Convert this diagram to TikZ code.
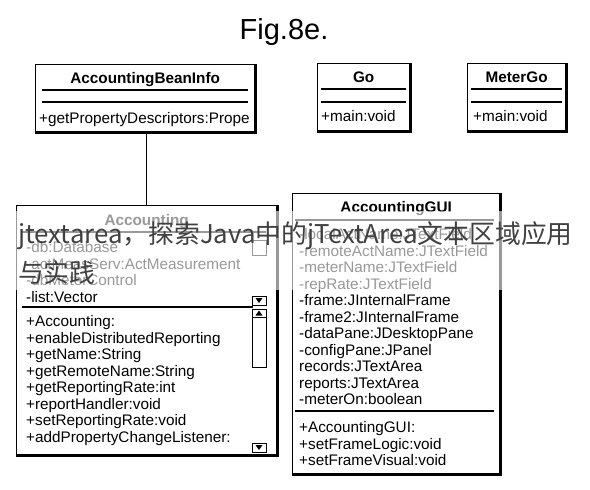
\documentclass[tikz,border=0pt]{standalone}
\usepackage{fontspec}
\setmainfont{Liberation Sans}
\newfontfamily\cjkfont{Noto Sans CJK SC}
\usetikzlibrary{positioning,calc}
\tikzset{
  umlbox/.style={draw,line width=1.3pt,inner sep=0pt,anchor=north west},
  umlname/.style={font=\fontsize{15.3}{16.5}\selectfont\bfseries,inner sep=0pt,anchor=base},
  umlitems/.style={font=\fontsize{15.3}{16.5}\selectfont,align=left,inner sep=0pt,anchor=north west},
  sepline/.style={line width=1.1pt},
  shadowedge/.style={line width=2.4pt},
  scrollpart/.style={draw,line width=0.9pt},
}

\begin{document}
\begin{tikzpicture}[x=1pt,y=-1pt]
\useasboundingbox (0,0) rectangle (590,490);
\node[font=\fontsize{29}{30}\selectfont,anchor=base,inner sep=0pt] (figtitle) at (284,39) {Fig.8e.};

% top row
\node[umlbox,minimum width=219pt,minimum height=67pt] (beaninfo) at (35,64) {};
\node[umlname] (beaninfoname) at ($(beaninfo.north)+(0,19.5)$) {AccountingBeanInfo};
\draw[sepline] ($(beaninfo.north west)+(7,26)$) -- ($(beaninfo.north east)+(-7,26)$);
\draw[sepline] ($(beaninfo.north west)+(7,38)$) -- ($(beaninfo.north east)+(-7,38)$);
\node[umlitems] (beaninfoops) at ($(beaninfo.north west)+(4,48)$) {+getPropertyDescriptors:Prope};

\node[umlbox,minimum width=92pt,minimum height=67pt] (go) at (317,63) {};
\node[umlname] (goname) at ($(go.north)+(0,19.5)$) {Go};
\draw[sepline] ($(go.north west)+(4,26)$) -- ($(go.north east)+(-4,26)$);
\draw[sepline] ($(go.north west)+(4,39)$) -- ($(go.north east)+(-4,39)$);
\node[umlitems] (goops) at ($(go.north west)+(4,47.5)$) {+main:void};

\node[umlbox,minimum width=98pt,minimum height=67pt] (metergo) at (467,63) {};
\node[umlname] (metergoname) at ($(metergo.north)+(0,19.5)$) {MeterGo};
\draw[sepline] ($(metergo.north west)+(4,26)$) -- ($(metergo.north east)+(-4,26)$);
\draw[sepline] ($(metergo.north west)+(4,39)$) -- ($(metergo.north east)+(-4,39)$);
\node[umlitems] (metergoops) at ($(metergo.north west)+(6,47.5)$) {+main:void};

% bottom row
\node[umlbox,minimum width=260pt,minimum height=249pt] (accounting) at (16,205) {};
\node[umlname] (accountingname) at ($(accounting.north)+(0,20.5)$) {Accounting};
\draw[sepline] ($(accounting.north west)+(6,27)$) -- ($(accounting.north east)+(-11,27)$);
\node[umlitems] (accountingattrs) at ($(accounting.north west)+(10,36.5)$)
  {-db:Database\\-actMeasServ:ActMeasurement\\-dbMeterControl\\-list:Vector};
\draw[sepline] ($(accounting.north west)+(6,102)$) -- ($(accounting.north east)+(-24,102)$);
\node[umlitems] (accountingops) at ($(accounting.north west)+(10,110.5)$)
  {+Accounting:\\+enableDistributedReporting\\+getName:String\\+getRemoteName:String\\
   +getReportingRate:int\\+reportHandler:void\\+setReportingRate:void\\+addPropertyChangeListener:};
% scroll bars
\draw[scrollpart] (252,240) rectangle (266,255);
\draw[scrollpart] (252,296) rectangle (266,305);
\fill (255.5,298) -- (262.5,298) -- (259,303) -- cycle;
\draw[scrollpart] (252,309) rectangle (266,367);
\draw[scrollpart] (252,317) -- (266,317);
\fill (255.5,315.5) -- (262.5,315.5) -- (259,310.5) -- cycle;
\draw[scrollpart] (252,443) rectangle (266,452);
\fill (255.5,445) -- (262.5,445) -- (259,450) -- cycle;

\node[umlbox,minimum width=207pt,minimum height=280pt] (gui) at (292,193) {};
\node[umlname] (guiname) at ($(gui.north)+(0,19.5)$) {AccountingGUI};
\draw[sepline] ($(gui.north west)+(3,27)$) -- ($(gui.north east)+(-6,27)$);
\node[umlitems] (guiattrs) at ($(gui.north west)+(7,35.5)$)
  {-localActName:JTextField\\-remoteActName:JTextField\\-meterName:JTextField\\-repRate:JTextField\\
   -frame:JInternalFrame\\-frame2:JInternalFrame\\-dataPane:JDesktopPane\\-configPane:JPanel\\
   records:JTextArea\\reports:JTextArea\\-meterOn:boolean};
\draw[sepline] ($(gui.north west)+(3,218)$) -- ($(gui.north east)+(-6,218)$);
\node[umlitems] (guiops) at ($(gui.north west)+(7,228.5)$)
  {+AccountingGUI:\\+setFrameLogic:void\\+setFrameVisual:void};

\foreach \b in {beaninfo,go,metergo,accounting,gui}
  \draw[shadowedge] (\b.south west) -- (\b.south east) -- (\b.north east);

\draw[line width=1pt] (accounting.north) -- (accounting.north |- beaninfo.south);

% caption laid over the figure
\fill[white,opacity=0.6] (0,211) rectangle (590,290);
\node[font=\cjkfont\fontsize{25.8}{39}\selectfont,text=black!75,align=left,anchor=north west,inner sep=0pt] (banner) at (18,221)
  {jtextarea，探索Java中的jTextArea文本区域应用\\与实践};
\end{tikzpicture}
\end{document}
